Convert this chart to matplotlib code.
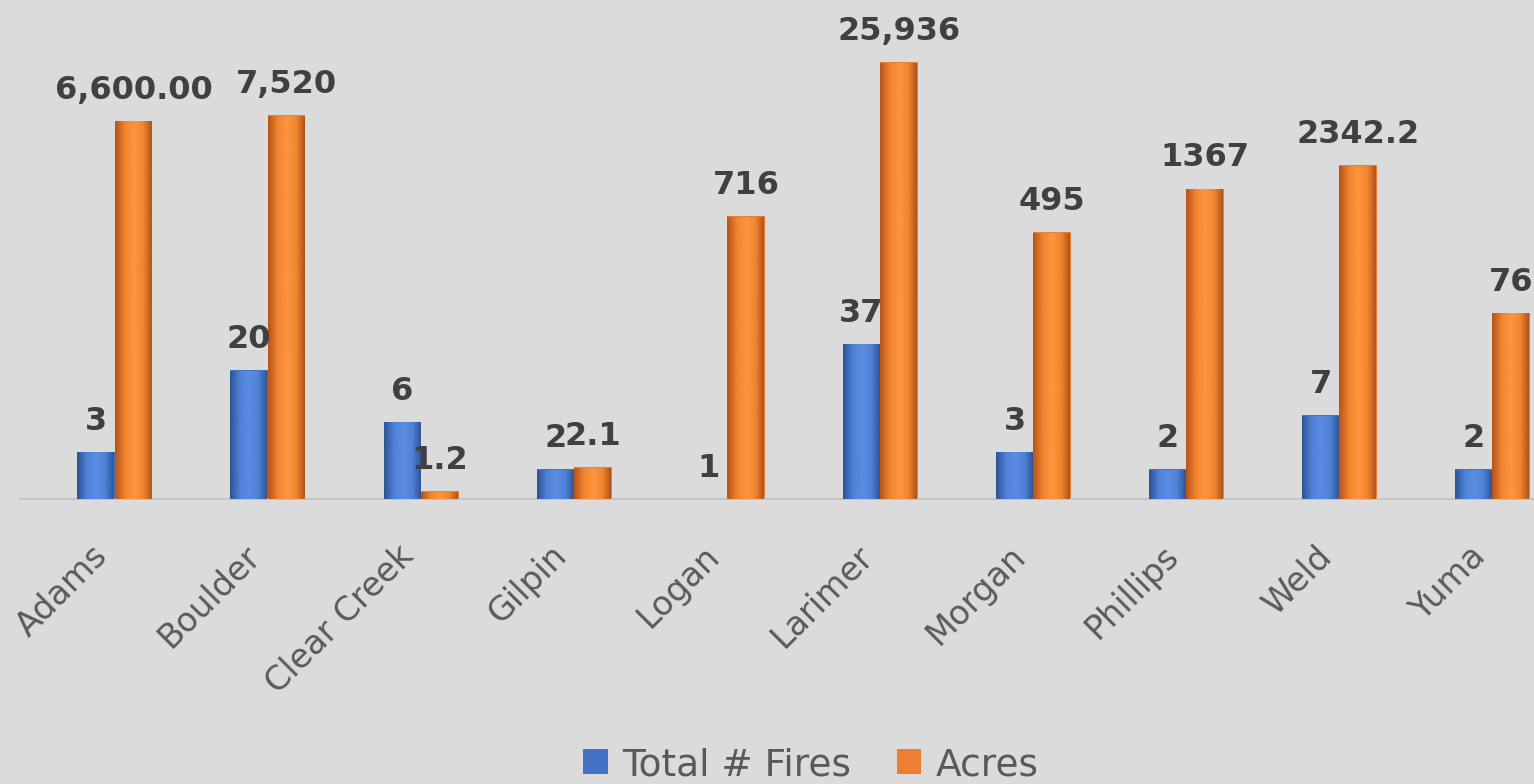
import numpy as np
import matplotlib

matplotlib.use("Agg")
import matplotlib.pyplot as plt
import matplotlib.transforms as mtransforms
from matplotlib.colors import LinearSegmentedColormap
from matplotlib.patches import Patch

counties = ["Adams", "Boulder", "Clear Creek", "Gilpin", "Logan",
            "Larimer", "Morgan", "Phillips", "Weld", "Yuma"]
fires = [3, 20, 6, 2, 1, 37, 3, 2, 7, 2]
acres = [6600.00, 7520, 1.2, 2.1, 716, 25936, 495, 1367, 2342.2, 76]
fire_labels = ["3", "20", "6", "2", "1", "37", "3", "2", "7", "2"]
acre_labels = ["6,600.00", "7,520", "1.2", "2.1", "716", "25,936", "495", "1367", "2342.2", "76"]

BG = "#dbdbdb"
BLUE = "#4472c4"
ORANGE = "#ed7d31"
blue_grad = LinearSegmentedColormap.from_list("b", ["#2f5597", "#4f82d8", "#5b8de3", "#4f82d8", "#2c5090"])
orange_grad = LinearSegmentedColormap.from_list("o", ["#b8561b", "#f2852f", "#ff9540", "#f2852f", "#a84e18"])

W, H = 1534, 784
fig = plt.figure(figsize=(W / 100, H / 100), dpi=100, facecolor=BG)
# axes: baseline (value 1) at y=499 px, ~99 px per decade, 153 px per category
ax = fig.add_axes([20 / W, (H - 499) / H, 1549 / W, 495 / H])
ax.set_facecolor(BG)
ax.set_yscale("log")
ax.set_ylim(1, 1e5)
ax.set_xlim(-0.62, 9.5)

x = np.arange(len(counties))
width = 0.245
grad = np.linspace(0, 1, 64).reshape(1, -1)


def shaded_bars(xs, vals, color, cmap):
    bars = ax.bar(xs, vals, width, bottom=1, color=color, edgecolor="none", zorder=2)
    for bar in bars:
        x0 = bar.get_x()
        h = bar.get_y() + bar.get_height()
        if h <= 1:
            continue
        im = ax.imshow(grad, cmap=cmap, aspect="auto", extent=(x0, x0 + bar.get_width(), 1, h),
                       zorder=3, interpolation="bicubic")
        im.set_clip_path(bar)
    return bars


b1 = shaded_bars(x - width / 2, np.array(fires) - 1, BLUE, blue_grad)
b2 = shaded_bars(x + width / 2, np.array(acres) - 1, ORANGE, orange_grad)

for xi, v, lab in zip(x - width / 2, fires, fire_labels):
    ax.annotate(lab, (xi, v), xytext=(0, 16), textcoords="offset points", ha="center",
                va="baseline", fontsize=23, fontweight="bold", color="#404040", zorder=5)
for xi, v, lab in zip(x + width / 2, acres, acre_labels):
    ax.annotate(lab, (xi, v), xytext=(0, 16), textcoords="offset points", ha="center",
                va="baseline", fontsize=23, fontweight="bold", color="#404040", zorder=5)

for s in ["top", "right", "left"]:
    ax.spines[s].set_visible(False)
ax.spines["bottom"].set_color("#c4c4c4")
ax.spines["bottom"].set_linewidth(1.5)
ax.set_yticks([])
ax.minorticks_off()
ax.yaxis.set_tick_params(which="both", length=0)
ax.set_xticks(x)
ax.set_xticklabels(counties, rotation=45, ha="right", rotation_mode="anchor",
                   fontsize=24, color="#595959")
ax.tick_params(axis="x", length=0, pad=29)
shift = mtransforms.ScaledTranslation(-24 / 100, 0, fig.dpi_scale_trans)
for lbl in ax.get_xticklabels():
    lbl.set_transform(lbl.get_transform() + shift)

handles = [Patch(facecolor=BLUE, label="Total # Fires"), Patch(facecolor=ORANGE, label="Acres")]
fig.legend(handles=handles, loc="center", bbox_to_anchor=(811 / W, 19 / H), ncol=2, frameon=False,
           fontsize=27, labelcolor="#595959", handlelength=0.65, handleheight=0.65,
           handletextpad=0.4, columnspacing=1.2)

fig.savefig("out.png", dpi=100, facecolor=BG)
